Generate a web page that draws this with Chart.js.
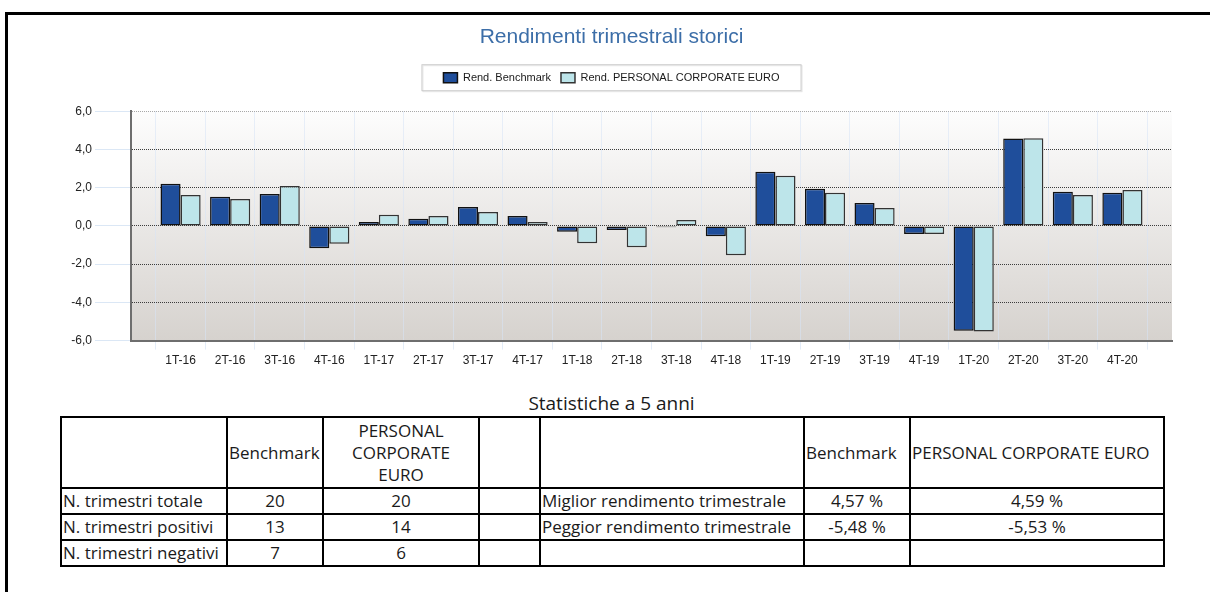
<!DOCTYPE html>
<html>
<head>
<meta charset="utf-8">
<script src="https://cdn.jsdelivr.net/npm/chart.js@4"></script>
<style>
  body { margin: 0; background: #fff; width: 1210px; height: 592px; overflow: hidden; position: relative; }
  #frame { position: absolute; left: 5px; top: 12px; width: 1220px; height: 600px; border-top: 3px solid #000; border-left: 3px solid #000; pointer-events: none; }
  #chart { position: absolute; left: 0; top: 0; }
  #stats-title { position: absolute; left: 60px; top: 391px; width: 1103px; text-align: center; font-family: "Open Sans", sans-serif; font-size: 19px; line-height: 24px; color: #1a1a1a; }
  #stats { position: absolute; left: 60px; top: 416px; width: 1103px; border-collapse: collapse; table-layout: fixed; font-family: "Open Sans", sans-serif; font-size: 17px; color: #1a1a1a; }
  #stats td { border: 2px solid #000; padding: 0 1px; line-height: 22px; white-space: nowrap; overflow: hidden; }
  #stats tr.head td { height: 69px; }
  #stats tr.row td { height: 24px; }
  #stats td.c { text-align: center; }
  #stats td.wrap { white-space: normal; text-align: center; padding: 0 14px; }
</style>
</head>
<body>
<canvas id="chart" width="1210" height="385"></canvas>
<div id="stats-title"></div>
<table id="stats">
  <colgroup>
    <col style="width:166px"><col style="width:96px"><col style="width:156px"><col style="width:61px">
    <col style="width:264px"><col style="width:106px"><col style="width:254px">
  </colgroup>
  <tbody id="stats-body"></tbody>
</table>
<div id="frame"></div>
<script>
const chartTitle = "Rendimenti trimestrali storici";
const categories = ["1T-16", "2T-16", "3T-16", "4T-16", "1T-17", "2T-17", "3T-17", "4T-17", "1T-18", "2T-18",
                    "3T-18", "4T-18", "1T-19", "2T-19", "3T-19", "4T-19", "1T-20", "2T-20", "3T-20", "4T-20"];
const benchmark = [2.20, 1.52, 1.67, -1.17, 0.21, 0.37, 0.99, 0.52, -0.31, -0.21,
                   -0.07, -0.54, 2.83, 1.94, 1.20, -0.42, -5.48, 4.57, 1.78, 1.73];
const fund = [1.62, 1.41, 2.09, -0.94, 0.58, 0.52, 0.73, 0.21, -0.91, -1.12,
              0.31, -1.54, 2.62, 1.73, 0.94, -0.43, -5.53, 4.59, 1.62, 1.88];
const seriesNames = ["Rend. Benchmark", "Rend. PERSONAL CORPORATE EURO"];
const yMin = -6, yMax = 6, yStep = 2;

const statsTitle = "Statistiche a 5 anni";
const leftHeaders = ["", "Benchmark", "PERSONAL CORPORATE EURO"];
const leftLabels = ["N. trimestri totale", "N. trimestri positivi", "N. trimestri negativi"];
const leftBench = ["20", "13", "7"];
const leftFund = ["20", "14", "6"];
const rightHeaders = ["", "Benchmark", "PERSONAL CORPORATE EURO"];
const rightLabels = ["Miglior rendimento trimestrale", "Peggior rendimento trimestrale", ""];
const rightBench = ["4,57 %", "-5,48 %", ""];
const rightFund = ["4,59 %", "-5,53 %", ""];

// padded labels so every category sits one slot in from the plot edges
const labels = [""].concat(categories, [""]);
const pad = (arr) => [null].concat(arr, [null]);

const plotBackground = {
  id: "plotBackground",
  beforeDraw(chart) {
    const a = chart.chartArea;
    const ctx = chart.ctx;
    const g = ctx.createLinearGradient(0, a.top, 0, a.bottom);
    g.addColorStop(0, "#fdfdfd");
    g.addColorStop(1, "#d6d2ce");
    ctx.save();
    ctx.fillStyle = g;
    ctx.fillRect(a.left, a.top, a.right - a.left, a.bottom - a.top);
    ctx.restore();
  }
};

// extra room under the legend, and a thin box round it
const legendBox = {
  id: "legendBox",
  afterInit(chart) {
    const lg = chart.legend;
    const fit = lg.fit;
    lg.fit = function () {
      fit.call(this);
      this.height += 18;
    };
  },
  afterDraw(chart) {
    const boxes = chart.legend.legendHitBoxes;
    if (!boxes || !boxes.length) return;
    const left = Math.min(...boxes.map(b => b.left)) - 22;
    const right = Math.max(...boxes.map(b => b.left + b.width)) + 21;
    const top = Math.min(...boxes.map(b => b.top)) - 8;
    const bottom = Math.max(...boxes.map(b => b.top + b.height)) + 7;
    const ctx = chart.ctx;
    ctx.save();
    ctx.strokeStyle = "#e6e6e6";
    ctx.lineWidth = 1;
    ctx.strokeRect(left + 1.5, top + 1.5, right - left, bottom - top);
    ctx.strokeStyle = "#cccccc";
    ctx.strokeRect(left + 0.5, top + 0.5, right - left, bottom - top);
    ctx.restore();
  }
};

new Chart(document.getElementById("chart"), {
  type: "bar",
  data: {
    labels: labels,
    datasets: [
      {
        label: seriesNames[0],
        data: pad(benchmark),
        backgroundColor: "#1f4e9b",
        borderColor: "#111111",
        borderWidth: 1.5,
        borderSkipped: false
      },
      {
        label: seriesNames[1],
        data: pad(fund),
        backgroundColor: "#bde5ea",
        borderColor: "#333333",
        borderWidth: 1.5,
        borderSkipped: false
      }
    ]
  },
  options: {
    responsive: false,
    animation: false,
    devicePixelRatio: 1,
    layout: { padding: { left: 51, right: 38, bottom: 13 } },
    plugins: {
      title: {
        display: true,
        text: chartTitle,
        color: "#3c6ea8",
        font: { family: "Liberation Sans, Arial, sans-serif", size: 21, weight: "normal" },
        padding: { top: 25, bottom: 12 }
      },
      legend: {
        display: true,
        labels: {
          color: "#1a1a1a",
          font: { family: "Liberation Sans, Arial, sans-serif", size: 11 },
          boxWidth: 14,
          boxHeight: 10,
          padding: 10
        }
      },
      tooltip: { enabled: false }
    },
    datasets: { bar: { barPercentage: 1, categoryPercentage: 0.81 } },
    scales: {
      x: {
        offset: false,
        grid: {
          color: "rgba(215,228,245,0.55)",
          tickColor: "rgba(215,228,245,0.7)",
          tickLength: 9
        },
        border: { color: "#6e6e6e", width: 2 },
        ticks: {
          autoSkip: false,
          maxRotation: 0,
          padding: 4,
          color: "#222",
          font: { family: "Liberation Sans, Arial, sans-serif", size: 12 }
        }
      },
      y: {
        min: yMin,
        max: yMax,
        afterFit(scale) { scale.width = 80; },
        grid: {
          color: (c) => (c.tick && c.tick.value === yMax ? "#a8a8a8" : "#3c3c3c"),
          tickColor: "#dbe7f5",
          tickLength: 36,
          tickBorderDash: []
        },
        border: { color: "#6e6e6e", width: 2, dash: [1, 1] },
        ticks: {
          stepSize: yStep,
          padding: 3,
          color: "#222",
          font: { family: "Liberation Sans, Arial, sans-serif", size: 12 },
          callback: (v) => v.toFixed(1).replace(".", ",")
        }
      }
    }
  },
  plugins: [plotBackground, legendBox]
});

// statistics table
document.getElementById("stats-title").textContent = statsTitle;
const body = document.getElementById("stats-body");
function cell(tr, text, cls) {
  const td = document.createElement("td");
  td.textContent = text;
  if (cls) td.className = cls;
  tr.appendChild(td);
}
const head = document.createElement("tr");
head.className = "head";
cell(head, leftHeaders[0]);
cell(head, leftHeaders[1]);
cell(head, leftHeaders[2], "wrap");
cell(head, "");
cell(head, rightHeaders[0]);
cell(head, rightHeaders[1]);
cell(head, rightHeaders[2]);
body.appendChild(head);
leftLabels.forEach((lab, i) => {
  const tr = document.createElement("tr");
  tr.className = "row";
  cell(tr, lab);
  cell(tr, leftBench[i], "c");
  cell(tr, leftFund[i], "c");
  cell(tr, "");
  cell(tr, rightLabels[i]);
  cell(tr, rightBench[i], "c");
  cell(tr, rightFund[i], "c");
  body.appendChild(tr);
});
</script>
</body>
</html>
